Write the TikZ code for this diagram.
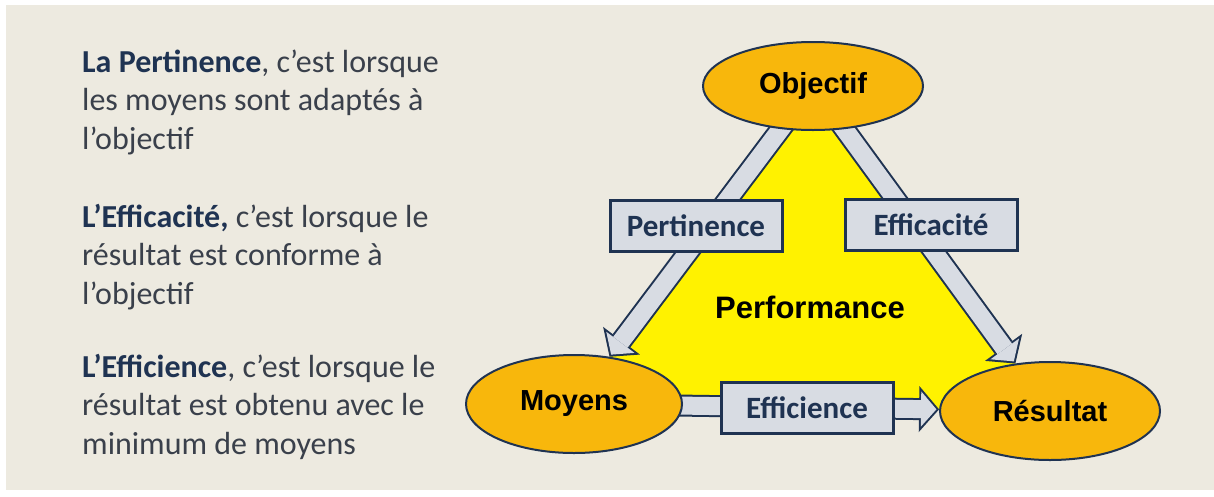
\documentclass[tikz,border=0pt]{standalone}
\usepackage{fontspec}
\setmainfont{Carlito}
\setsansfont{Liberation Sans}
\usetikzlibrary{shapes.geometric,arrows.meta,backgrounds}

\definecolor{fond}{HTML}{EDEAE0}
\definecolor{or}{HTML}{F8B70C}
\definecolor{marine}{HTML}{1F3352}
\definecolor{gris}{HTML}{D8DCE3}
\definecolor{texte}{HTML}{3A404B}

\tikzset{
  pole/.style={ellipse, draw=marine, line width=2pt, fill=or, inner sep=0pt,
    font=\sffamily\bfseries\fontsize{29}{29}\selectfont, text=black},
  critere/.style={draw=marine, line width=3pt, fill=gris, inner sep=0pt,
    minimum width=172pt, minimum height=51pt,
    font=\bfseries\fontsize{31}{31}\selectfont, text=marine},
  flechebord/.style={draw=marine, line width=22pt,
    -{Triangle[length=20pt,width=46pt,line width=0pt]}},
  flechefond/.style={draw=gris, line width=18pt, shorten >=2.65pt,
    -{Triangle[length=15.4pt,width=35.3pt,line width=0pt]}},
  definition/.style={anchor=base west, align=left, text=texte, inner sep=0pt,
    font=\fontsize{32}{38.5}\selectfont}
}

\begin{document}
\begin{tikzpicture}[x=1pt,y=-1pt]
  \useasboundingbox (0,0) rectangle (1214,496);

  % anchored on the last line of each block
  \node[definition] (pert) at (82,149)
    {\textbf{\color{marine}La Pertinence}, c’est lorsque\\les moyens sont adaptés à\\l’objectif};
  \node[definition] (effa) at (82,304)
    {\textbf{\color{marine}L’Efficacité,} c’est lorsque le\\résultat est conforme à\\l’objectif};
  \node[definition] (effi) at (82,454)
    {\textbf{\color{marine}L’Efficience}, c’est lorsque le\\résultat est obtenu avec le\\minimum de moyens};

  \node[pole, minimum width=220pt, minimum height=88pt] (obj) at (813,86) {Objectif};
  \node[pole, minimum width=216pt, minimum height=98pt] (moy) at (574,404) {Moyens};
  \node[pole, minimum width=220pt, minimum height=98pt] (res) at (1050,411) {Résultat};

  \begin{pgfonlayer}{background}
    \fill[white] (0,0) rectangle (1214,496);
    \fill[fond] (6,5) rectangle (1214,490);
    \fill[yellow] (obj.center) -- (moy.center) -- (res.center) -- cycle;
    \foreach \a/\b in {obj/moy,obj/res,moy/res} {
      \draw[flechebord] (\a.center) -- (\b);
      \draw[flechefond] (\a.center) -- (\b);
    }
  \end{pgfonlayer}

  \node[font=\sffamily\bfseries\fontsize{31}{31}\selectfont] (perf) at (810,307) {Performance};

  \node[critere] (pertb) at (696,226) {Pertinence};
  \node[critere] (effab) at (931,225) {Efficacité};
  \node[critere] (effib) at (807,408) {Efficience};
\end{tikzpicture}
\end{document}
